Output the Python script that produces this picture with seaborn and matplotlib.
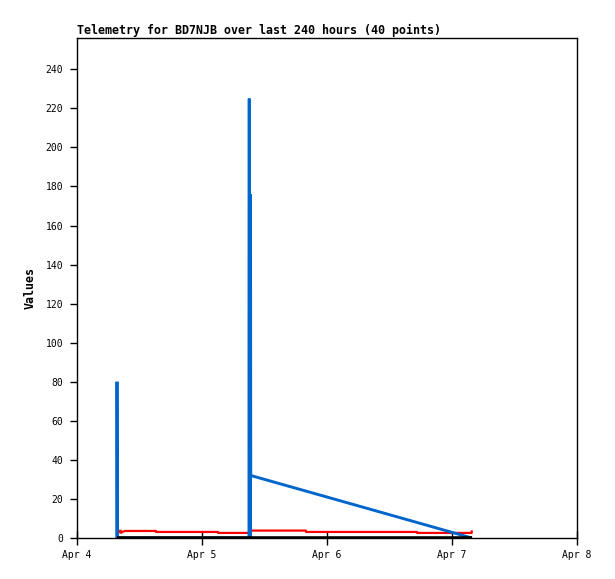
import matplotlib
matplotlib.use("Agg")
import matplotlib.pyplot as plt
import matplotlib.dates as mdates
import seaborn as sns
import pandas as pd
import numpy as np

sns.set_theme(style="white")
plt.rcParams['font.family'] = ['DejaVu Sans Mono', 'DejaVu Sans']
plt.rcParams['lines.solid_capstyle'] = 'butt'
plt.rcParams['lines.solid_joinstyle'] = 'miter'
plt.rcParams['text.color'] = 'black'
plt.rcParams['axes.labelcolor'] = 'black'

base = pd.Timestamp("2024-04-04 00:00")

# Blue series (days since Apr 4, value)
blue_days = [0.320, 0.320, 0.3215, 1.376, 1.378, 1.3795, 1.3835, 1.385, 1.3865, 1.3885, 1.390, 3.160]
blue_vals = [0, 80, 0, 0, 225, 0, 0, 176, 0, 145, 32, 0]

# Red series
red_days = [0.320, 0.326, 0.332, 0.338, 0.344, 0.350, 0.356, 0.364, 0.384, 0.630, 0.634,
            1.126, 1.130, 1.380, 1.384, 1.830, 1.834, 2.718, 2.722, 3.150, 3.156, 3.160]
red_vals = [3.0, 3.6, 3.1, 3.5, 3.0, 3.5, 2.8, 3.2, 3.6, 3.6, 3.1,
            3.1, 2.6, 2.6, 3.8, 3.8, 3.1, 3.1, 2.6, 2.6, 2.6, 3.9]

# Black series
black_days = [0.320, 3.160]
black_vals = [0, 0]

title = "Telemetry for BD7NJB over last 240 hours (40 points)"
ylabel = "Values"
xtick_days = [0, 1, 2, 3, 4]
yticks = list(range(0, 241, 20))

def mk(days, vals):
    return pd.DataFrame({"t": [base + pd.Timedelta(days=d) for d in days], "v": vals})

fig = plt.figure(figsize=(6.15, 5.79), dpi=100)
ax = fig.add_axes([77/615, 41/579, 500/615, 500/579])

sns.lineplot(data=mk(red_days, red_vals), x="t", y="v", ax=ax, color="#ff0000",
             lw=1.6, estimator=None, sort=False)
sns.lineplot(data=mk(blue_days, blue_vals), x="t", y="v", ax=ax, color="#0066cc",
             lw=2.1, estimator=None, sort=False)
sns.lineplot(data=mk(black_days, black_vals), x="t", y="v", ax=ax, color="#000000",
             lw=2.6, estimator=None, sort=False)

ax.set_xlim(base, base + pd.Timedelta(days=4))
ax.set_ylim(0, 256)
ax.set_xticks([base + pd.Timedelta(days=d) for d in xtick_days])
ax.xaxis.set_major_formatter(mdates.DateFormatter("%b %-d"))
ax.set_yticks(yticks)
ax.set_xlabel("")
ax.set_ylabel(ylabel, fontsize=8.4, fontweight="bold", labelpad=6, color="black")
ax.set_title(title, loc="left", fontsize=8.4, fontweight="bold", pad=3, color="black")

for s in ax.spines.values():
    s.set_color("black")
    s.set_linewidth(1)
ax.tick_params(axis="x", direction="inout", length=10, width=1, labelsize=7, colors="black", pad=4)
ax.tick_params(axis="y", direction="out", length=5, width=1, labelsize=7, colors="black", pad=5)
ax.tick_params(bottom=True, left=True)
ax.grid(False)

fig.savefig("out.png", dpi=100)
